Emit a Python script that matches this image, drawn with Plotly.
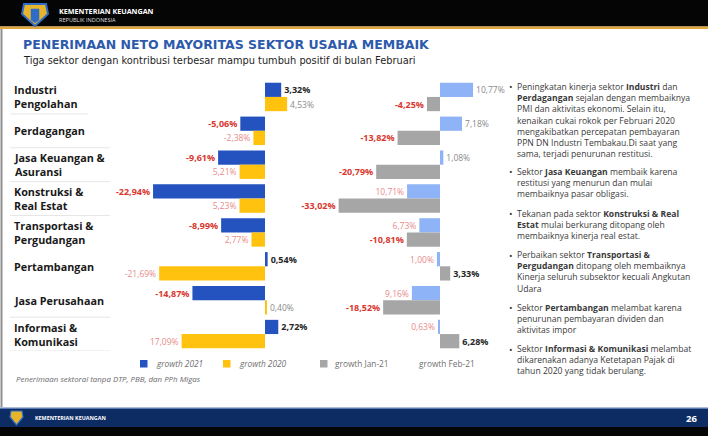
import plotly.graph_objects as go

W, H = 708, 436

# ---------------- data ----------------
categories = ["Industri Pengolahan", "Perdagangan", "Jasa Keuangan & Asuransi",
              "Konstruksi & Real Estat", "Transportasi & Pergudangan",
              "Pertambangan", "Jasa Perusahaan", "Informasi & Komunikasi"]
category_labels = ["Industri<br>Pengolahan", "Perdagangan", "Jasa Keuangan &<br>Asuransi",
                   "Konstruksi &<br>Real Estat", "Transportasi &<br>Pergudangan",
                   "Pertambangan", "Jasa Perusahaan", "Informasi &<br>Komunikasi"]

growth_2021 = [3.32, -5.06, -9.61, -22.94, -8.99, 0.54, -14.87, 2.72]
growth_2020 = [4.53, -2.38, -5.21, -5.23, -2.77, -21.69, 0.40, -17.09]
growth_feb21 = [10.77, 7.18, 1.08, -10.71, -6.73, -1.00, -9.16, -0.63]
growth_jan21 = [-4.25, -13.82, -20.79, -33.02, -10.81, 3.33, -18.52, 6.28]

label_2021 = ["3,32%", "-5,06%", "-9,61%", "-22,94%", "-8,99%", "0,54%", "-14,87%", "2,72%"]
label_2020 = ["4,53%", "-2,38%", "5,21%", "5,23%", "2,77%", "-21,69%", "0,40%", "17,09%"]
label_feb21 = ["10,77%", "7,18%", "1,08%", "10,71%", "6,73%", "1,00%", "9,16%", "0,63%"]
label_jan21 = ["-4,25%", "-13,82%", "-20,79%", "-33,02%", "-10,81%", "3,33%", "-18,52%", "6,28%"]

series_names = ["growth 2021", "growth 2020", "growth Jan-21", "growth Feb-21"]

title_text = "PENERIMAAN NETO MAYORITAS SEKTOR USAHA MEMBAIK"
subtitle_text = "Tiga sektor dengan kontribusi terbesar mampu tumbuh positif di bulan Februari"
footnote_text = "Penerimaan sektoral tanpa DTP, PBB, dan PPh Migas"

paragraphs = [
    ["Peningkatan kinerja sektor <b>Industri</b> dan",
     "<b>Perdagangan</b> sejalan dengan membaiknya",
     "PMI dan aktivitas ekonomi. Selain itu,",
     "kenaikan cukai rokok per Februari 2020",
     "mengakibatkan percepatan pembayaran",
     "PPN DN Industri Tembakau.Di saat yang",
     "sama, terjadi penurunan restitusi."],
    ["Sektor <b>Jasa Keuangan</b> membaik karena",
     "restitusi yang menurun dan mulai",
     "membaiknya pasar obligasi."],
    ["Tekanan pada sektor <b>Konstruksi &amp; Real</b>",
     "<b>Estat</b> mulai berkurang ditopang oleh",
     "membaiknya kinerja real estat."],
    ["Perbaikan sektor <b>Transportasi &amp;</b>",
     "<b>Pergudangan</b> ditopang oleh membaiknya",
     "Kinerja seluruh subsektor kecuali Angkutan",
     "Udara"],
    ["Sektor <b>Pertambangan</b> melambat karena",
     "penurunan pembayaran dividen dan",
     "aktivitas impor"],
    ["Sektor <b>Informasi &amp; Komunikasi</b> melambat",
     "dikarenakan adanya Ketetapan Pajak di",
     "tahun 2020 yang tidak berulang."],
]

# ---------------- styles ----------------
BLUE = "#2452BE"
YELLOW = "#FFC20E"
GRAY = "#A6A6A6"
LIGHTBLUE = "#8EB3F6"
RED = "#D8372F"
LIGHTRED = "#E88A8A"
DARK = "#262626"
MIDGRAY = "#8A8A8A"


def px_x(x):
    return x / W


def px_y(y):
    return 1 - y / H


def rect(x0, y0, x1, y1, color, layer="below"):
    return dict(type="rect", xref="paper", yref="paper",
                x0=px_x(x0), x1=px_x(x1), y0=px_y(y1), y1=px_y(y0),
                fillcolor=color, line=dict(width=0), layer=layer)


def path(points, fill, line_color, lw=1):
    d = "M " + " L ".join(f"{px_x(a):.5f},{px_y(b):.5f}" for a, b in points) + " Z"
    return dict(type="path", xref="paper", yref="paper", path=d,
                fillcolor=fill, line=dict(color=line_color, width=lw), layer="above")


BW = 0.42  # bar thickness in category units

fig = go.Figure()

fig.add_trace(go.Bar(
    y=categories, x=growth_2021, orientation="h", name=series_names[0],
    marker=dict(color=BLUE, line=dict(width=0)), width=BW, offset=-BW,
    text=[f"<b>{t}</b>" for t in label_2021], textposition="outside",
    textfont=dict(family="Open Sans", size=9,
                  color=[RED if v < 0 else DARK for v in growth_2021]),
    cliponaxis=False, constraintext="none", xaxis="x", yaxis="y", showlegend=False))

fig.add_trace(go.Bar(
    y=categories, x=growth_2020, orientation="h", name=series_names[1],
    marker=dict(color=YELLOW, line=dict(width=0)), width=BW, offset=0,
    text=label_2020, textposition="outside",
    textfont=dict(family="Open Sans", size=8.5,
                  color=[LIGHTRED if v < 0 else MIDGRAY for v in growth_2020]),
    cliponaxis=False, constraintext="none", xaxis="x", yaxis="y", showlegend=False))

fig.add_trace(go.Bar(
    y=categories, x=growth_feb21, orientation="h", name=series_names[3],
    marker=dict(color=LIGHTBLUE, line=dict(width=0)), width=BW, offset=-BW,
    text=label_feb21, textposition="outside",
    textfont=dict(family="Open Sans", size=8.5,
                  color=[LIGHTRED if v < 0 else MIDGRAY for v in growth_feb21]),
    cliponaxis=False, constraintext="none", xaxis="x2", yaxis="y", showlegend=False))

fig.add_trace(go.Bar(
    y=categories, x=growth_jan21, orientation="h", name=series_names[2],
    marker=dict(color=GRAY, line=dict(width=0)), width=BW, offset=0,
    text=[f"<b>{t}</b>" for t in label_jan21], textposition="outside",
    textfont=dict(family="Open Sans", size=9,
                  color=[RED if v < 0 else DARK for v in growth_jan21]),
    cliponaxis=False, constraintext="none", xaxis="x2", yaxis="y", showlegend=False))

# axis geometry (pixels): left chart zero at 265, 4.88 px/% ; right chart zero at 440, 3.07 px/%
L0, LS, LD = 265, 4.88, (150, 300)
R0, RS, RD = 440, 3.07, (330, 500)

hidden = dict(showgrid=False, zeroline=False, showline=False, showticklabels=False, ticks="")
fig.update_layout(
    width=W, height=H, margin=dict(l=0, r=0, t=0, b=0),
    paper_bgcolor="white", plot_bgcolor="rgba(0,0,0,0)",
    barmode="overlay",
    xaxis=dict(domain=[px_x(LD[0]), px_x(LD[1])],
               range=[(LD[0] - L0) / LS, (LD[1] - L0) / LS], anchor="y", **hidden),
    xaxis2=dict(domain=[px_x(RD[0]), px_x(RD[1])],
                range=[(RD[0] - R0) / RS, (RD[1] - R0) / RS], anchor="y", **hidden),
    yaxis=dict(domain=[px_y(351), px_y(80)], type="category",
               categoryarray=categories, categoryorder="array",
               range=[len(categories) - 0.5, -0.5], anchor="x", **hidden),
)

shapes = []
# header
shapes.append(rect(0, 0, W, 26.5, "#050505"))
shapes.append(rect(0, 26.5, W, 29, "#E0A63A"))
# left border line
shapes.append(dict(type="line", xref="paper", yref="paper", x0=px_x(1.5), x1=px_x(1.5),
                   y0=px_y(407), y1=px_y(29), line=dict(color="#8E8E8E", width=2)))
# footer
shapes.append(rect(0, 408, W, 427, "#0C2C63"))
shapes.append(rect(0, 407.5, W, 409, "#5C7BB5"))
shapes.append(rect(0, 427, W, H, "#050505"))
# header logo
shapes.append(path([(24, 4), (46, 4), (48, 14), (35, 26), (22, 14)], "#E7B52C", "#2F6CC8", 2))
shapes.append(path([(31, 9), (39, 9), (39, 20), (35, 23), (31, 20)], "#2F6CC8", "#2F6CC8", 0.5))
# footer logo
shapes.append(path([(11, 411), (22, 411), (23, 417), (16.5, 425), (10, 417)], "#E7B52C", "#2F6CC8", 1.2))

# row separator lines under category labels
sep_rows = [(0, 88), (1, 110), (2, 110), (3, 110), (6, 110), (7, 110)]
for r, xend in sep_rows:
    shapes.append(dict(type="line", xref="paper", yref="y", x0=px_x(10), x1=px_x(xend),
                       y0=r + 0.5, y1=r + 0.5, line=dict(color="#E6E6E6", width=1), layer="below"))

# legend squares
legend_items = [(series_names[0], BLUE, 140, 154, True),
                (series_names[1], YELLOW, 223, 237, True),
                (series_names[2], GRAY, 320, 333, False),
                (series_names[3], None, None, 417, False)]
for name, col, sx, tx, it in legend_items:
    if col is not None:
        shapes.append(rect(sx, 360, sx + 7.5, 367.5, col, layer="above"))

fig.update_layout(shapes=shapes)

ann = []


def text(x, y, s, size, color, family="Open Sans", xanchor="left", yanchor="middle", **kw):
    ann.append(dict(x=px_x(x), y=px_y(y), xref="paper", yref="paper", text=s,
                    showarrow=False, xanchor=xanchor, yanchor=yanchor, align="left",
                    font=dict(size=size, color=color, family=family), **kw))


# header texts
text(57, 11, "<b>KEMENTERIAN KEUANGAN</b>", 7.2, "white", family="Open Sans")
text(57, 20, "REPUBLIK INDONESIA", 5.6, "#DDDDDD", family="Open Sans")
# title
text(21, 44, f"<b>{title_text}</b>", 12.5, "#2D5AAC", family="DejaVu Sans")
text(21, 60, subtitle_text, 9.8, "#1E1E1E", family="DejaVu Sans")

# category labels
for cat, lab in zip(categories, category_labels):
    ann.append(dict(x=px_x(12), y=cat, xref="paper", yref="y", text=f"<b>{lab}</b>",
                    showarrow=False, xanchor="left", yanchor="middle", align="left",
                    font=dict(size=10.8, color="#1A1A1A", family="Open Sans")))

# legend texts
for name, col, sx, tx, it in legend_items:
    s = f"<i>{name}</i>" if it else name
    text(tx, 363.8, s, 8.3, "#707070")

# footnote
text(14, 379, f"<i>{footnote_text}</i>", 7.9, "#6A6A6A")

# right commentary: one text block per paragraph (line spacing = 1.3 x font size)
BODY = 8.6
LINE = 1.3 * BODY
para_first_lines = [87.0, 171.5, 213.5, 255.0, 307.5, 349.0]
for y0, para in zip(para_first_lines, paragraphs):
    n = len(para)
    text(513.5, y0, "•", 9.5, "#3A3A3A", family="Open Sans", xanchor="right", borderpad=0)
    text(515.5, y0 + (n - 1) * LINE / 2, "<br>".join(para), BODY, "#3A3A3A",
         family="Open Sans", borderpad=0)

# footer texts
text(33, 418, "<b>KEMENTERIAN KEUANGAN</b>", 5.4, "white")
text(699, 418, "<b>26</b>", 9.5, "white", xanchor="right")

fig.update_layout(annotations=ann)

fig.write_html("out.html", config={"displayModeBar": False},
               post_script="document.body.style.margin='0';document.body.style.overflow='hidden';")
